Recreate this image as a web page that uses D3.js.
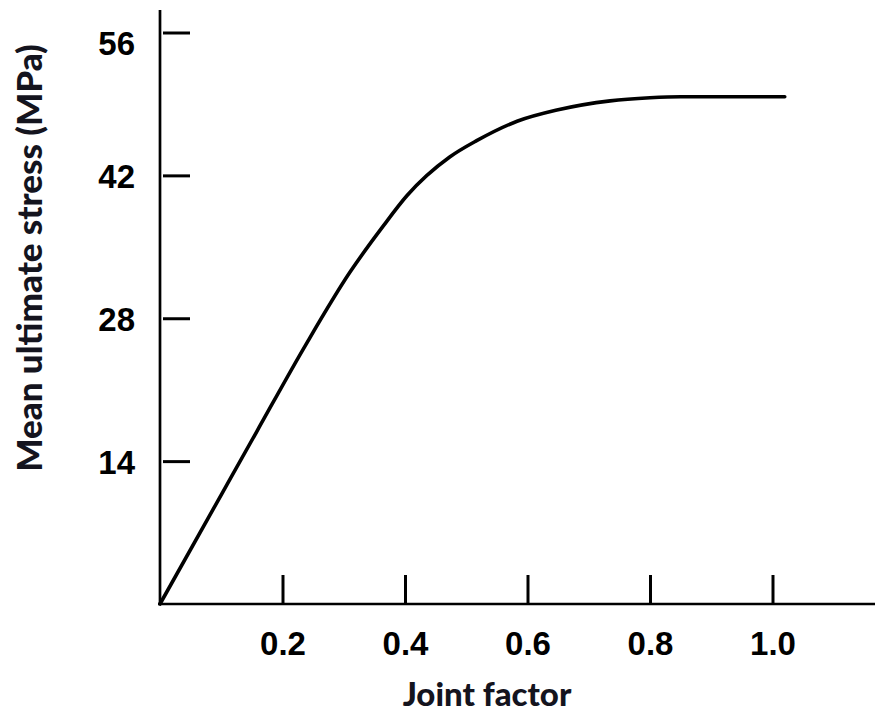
<!DOCTYPE html>
<html>
<head>
<meta charset="utf-8">
<script src="https://cdn.jsdelivr.net/npm/d3@7"></script>
<style>
  html, body { margin: 0; padding: 0; background: #fff; }
  svg { display: block; }
</style>
</head>
<body>
<svg id="chart" width="875" height="727"></svg>
<script>
// ---- data ----
const jointFactor = [0, 0.10, 0.158, 0.237, 0.31, 0.364, 0.403, 0.473, 0.517, 0.583, 0.648, 0.735, 0.80, 0.85, 1.02];
const meanStress  = [0, 10.7, 16.9, 25.3, 32.5, 37.0, 40.0, 43.8, 45.4, 47.3, 48.4, 49.3, 49.6, 49.7, 49.7];
const xTicks = [0.2, 0.4, 0.6, 0.8, 1.0];
const yTicks = [14, 28, 42, 56];
const xTitle = "Joint factor";
const yTitle = "Mean ultimate stress (MPa)";

const svg = d3.select("#chart");
const x = d3.scaleLinear().domain([0, 1]).range([160, 772.5]);
const y = d3.scaleLinear().domain([0, 56]).range([604, 32.5]);

const tickFont = "'Liberation Sans', Arial, sans-serif";
const titleFont = "Lato, 'Open Sans', sans-serif";

// X axis: ticks pointing up
const xAxis = d3.axisBottom(x)
  .tickValues(xTicks)
  .tickFormat(d3.format(".1f"))
  .tickSizeInner(-29)
  .tickSizeOuter(0)
  .tickPadding(0);
const gx = svg.append("g").attr("transform", `translate(0,${y(0)})`).call(xAxis);
gx.select(".domain").remove();
gx.append("line")
  .attr("x1", x(0) - 2).attr("x2", 875)
  .attr("y1", 0).attr("y2", 0)
  .attr("stroke", "#000").attr("stroke-width", 2.7);
gx.selectAll(".tick line").attr("stroke", "#000").attr("stroke-width", 3);
gx.selectAll(".tick text")
  .attr("y", 51).attr("dy", 0)
  .attr("font-family", tickFont).attr("font-weight", "bold")
  .attr("font-size", 33).attr("fill", "#000");

// Y axis: ticks pointing right
const yAxis = d3.axisLeft(y)
  .tickValues(yTicks)
  .tickSizeInner(-30)
  .tickSizeOuter(0)
  .tickPadding(0);
const gy = svg.append("g").attr("transform", `translate(${x(0)},0)`).call(yAxis);
gy.select(".domain").remove();
gy.append("line")
  .attr("x1", 0).attr("x2", 0)
  .attr("y1", 10).attr("y2", y(0) + 1)
  .attr("stroke", "#000").attr("stroke-width", 2.7);
gy.selectAll(".tick line").attr("x1", 3).attr("stroke", "#000").attr("stroke-width", 3);
gy.selectAll(".tick text")
  .attr("x", -25)
  .attr("dy", "0.36em")
  .attr("font-family", tickFont).attr("font-weight", "bold")
  .attr("font-size", 33).attr("fill", "#000");
// in the reference the top label sits a little below its tick
gy.selectAll(".tick text").filter(d => d === 56).attr("dy", "0.68em");

// Curve
const line = d3.line()
  .x((d, i) => x(jointFactor[i]))
  .y((d, i) => y(meanStress[i]))
  .curve(d3.curveMonotoneX);
svg.append("path")
  .datum(meanStress)
  .attr("d", line)
  .attr("fill", "none")
  .attr("stroke", "#000")
  .attr("stroke-width", 3.6)
  .attr("stroke-linejoin", "round")
  .attr("stroke-linecap", "round");

// Axis titles
svg.append("text")
  .attr("x", 487).attr("y", 706)
  .attr("text-anchor", "middle")
  .attr("font-family", titleFont).attr("font-weight", "900")
  .attr("font-size", 33).attr("fill", "#14141e")
  .text(xTitle);
svg.append("text")
  .attr("transform", "translate(42,258) rotate(-90)")
  .attr("text-anchor", "middle")
  .attr("font-family", titleFont).attr("font-weight", "900")
  .attr("font-size", 35).attr("fill", "#14141e")
  .text(yTitle);
</script>
</body>
</html>
